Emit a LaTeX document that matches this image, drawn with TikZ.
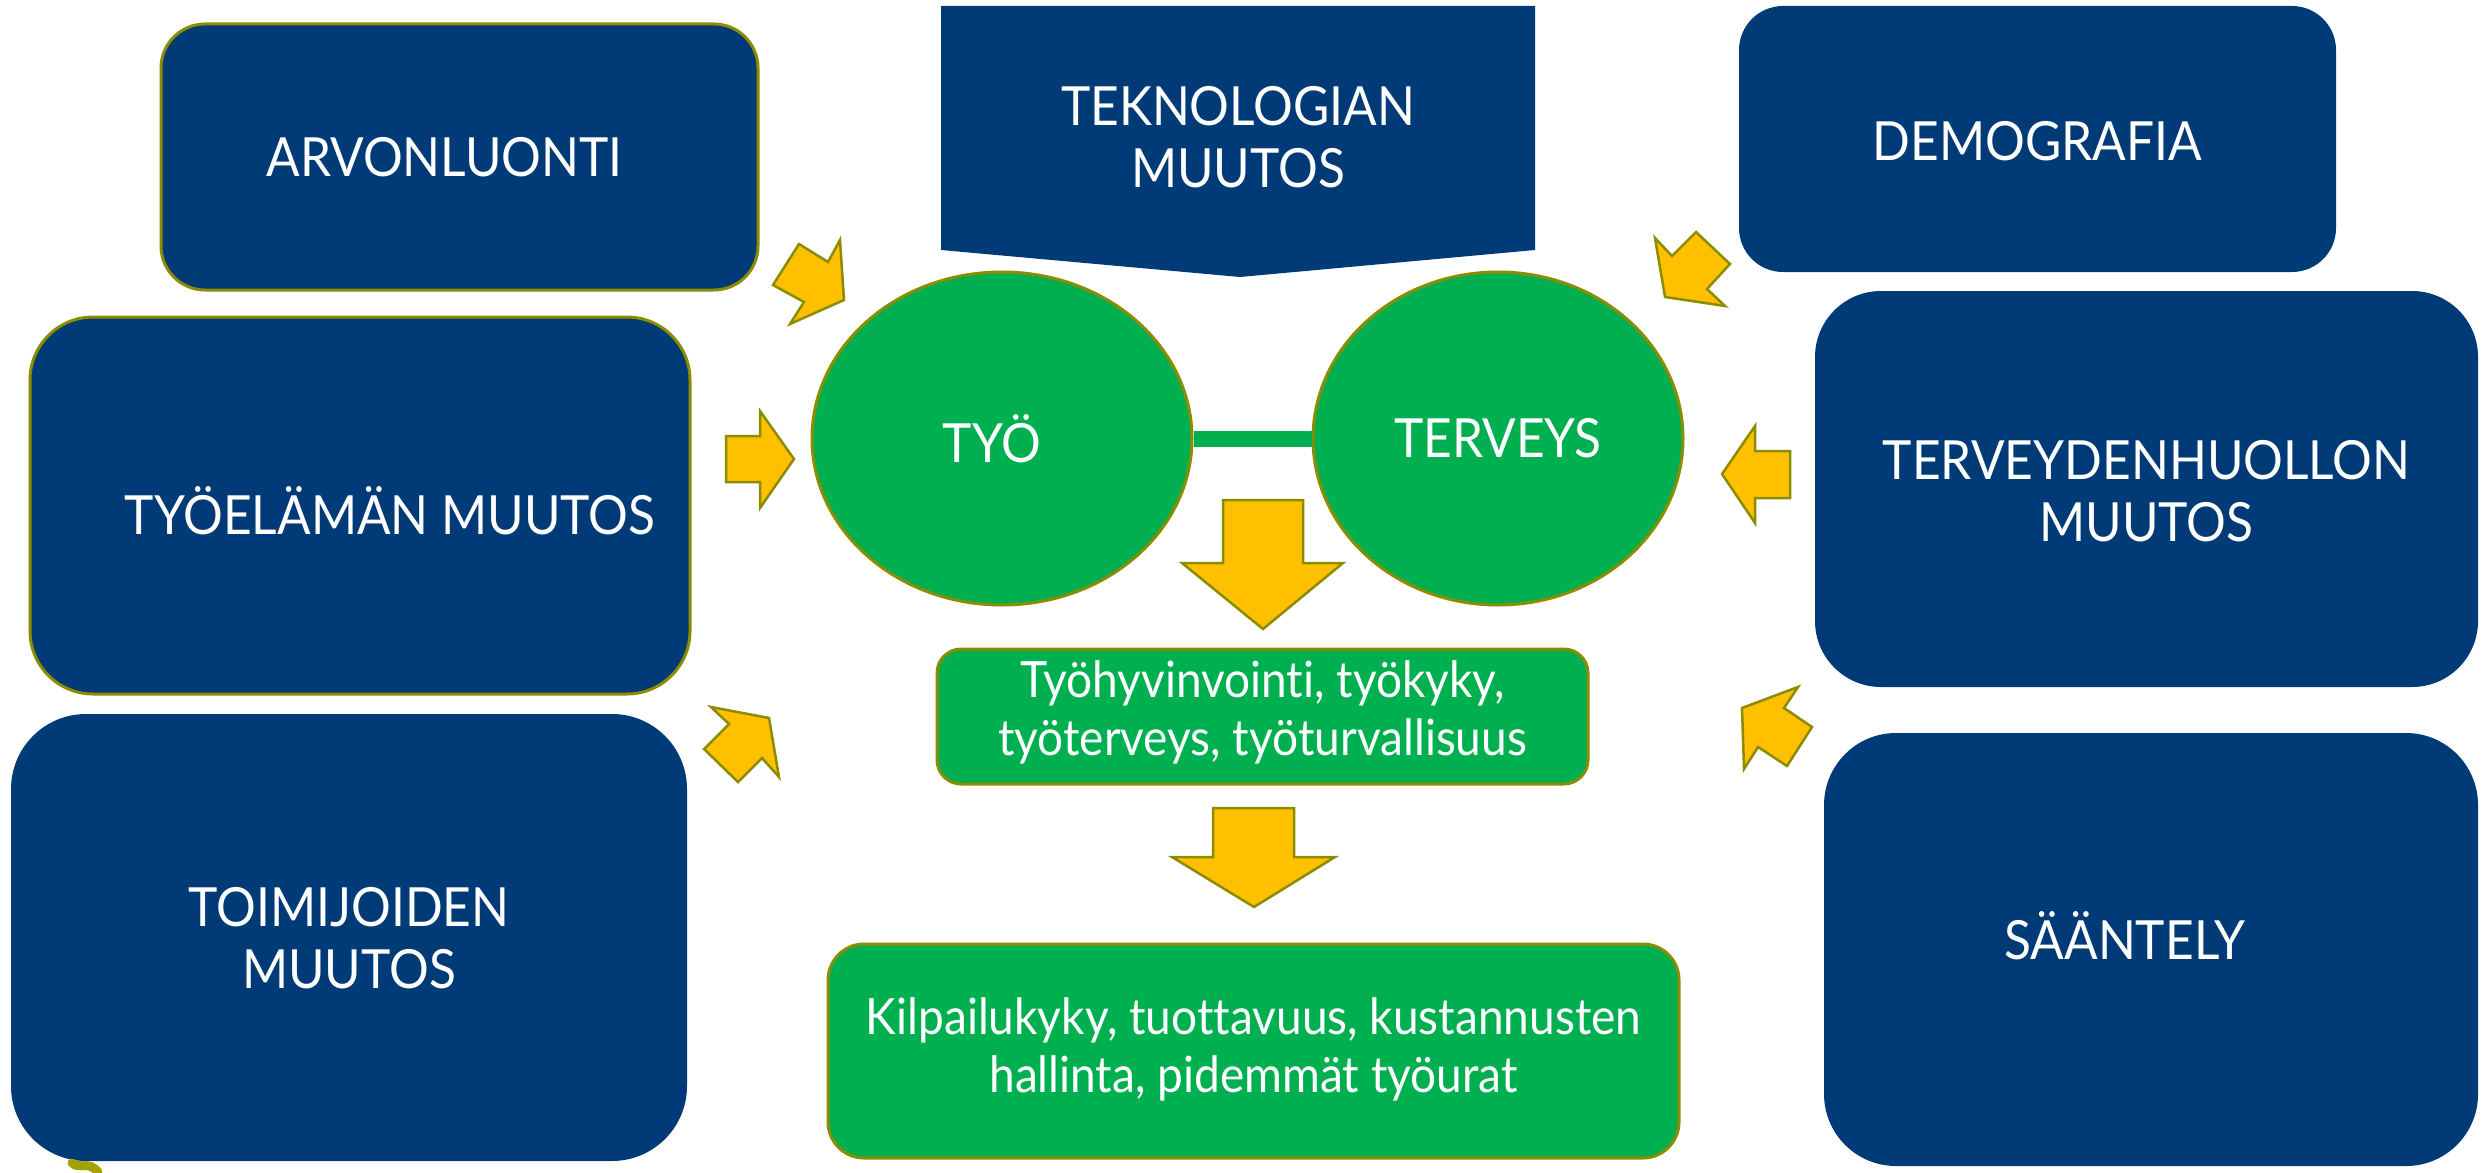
\documentclass[tikz,border=0pt]{standalone}
\usepackage{fontspec}
\setmainfont{Lato}
\newfontfamily\capsfont{Lato}[FakeStretch=0.92, Ligatures=NoCommon]
\newfontfamily\bodyfont{Lato}[FakeStretch=0.92, Ligatures=NoCommon]
\usetikzlibrary{shapes.geometric}

\definecolor{navy}{HTML}{003B77}
\definecolor{leafgreen}{HTML}{00B050}
\definecolor{amber}{HTML}{FFC000}
\definecolor{olivegold}{HTML}{8C8C00}

\tikzset{
  navybox/.style={fill=navy, inner sep=0pt},
  olivetrim/.style={draw=olivegold, line width=3pt},
  greenbox/.style={fill=leafgreen, draw=olivegold, line width=3pt, inner sep=0pt},
  greenoval/.style={ellipse, fill=leafgreen, draw=olivegold, line width=3pt, inner sep=0pt},
  blockarrow/.style={fill=amber, draw=olivegold, line width=2.5pt, line join=miter},
  capslabel/.style={text=white, align=center, inner sep=0pt,
    font={\capsfont\fontsize{54}{62}\selectfont}},
  bodylabel/.style={text=white, align=center, inner sep=0pt,
    font={\bodyfont\fontsize{50}{58}\selectfont}},
}

\begin{document}
\begin{tikzpicture}[x=1pt, y=-1pt]
\useasboundingbox (0,0) rectangle (2483,1172);

% --- outer driver boxes ---
\node[navybox, olivetrim, minimum width=597, minimum height=266, rounded corners=44] (arvo) at (459.5,157) {};
\node[navybox, olivetrim, minimum width=660, minimum height=377, rounded corners=63] (tyoelama) at (360,505.5) {};
\node[navybox, minimum width=676, minimum height=447, rounded corners=75] (toimijat) at (349,937.5) {};
\node[navybox, minimum width=597, minimum height=266, rounded corners=44] (demo) at (2037.5,139) {};
\node[navybox, minimum width=663, minimum height=396, rounded corners=66] (thuolto) at (2146.5,489) {};
\node[navybox, minimum width=654, minimum height=433, rounded corners=72] (saantely) at (2151,949.5) {};

% technology banner (rectangle with a shallow point at the bottom)
\fill[navy] (941,6) -- (1535,6) -- (1535,250) -- (1240,277) -- (941,250) -- cycle;
\coordinate (tekno) at (1238,137);

\node[capslabel] at ([xshift=-15]arvo.center) {ARVONLUONTI};
\node[capslabel] at ([xshift=30,yshift=-5]tyoelama.center) {TYÖELÄMÄN MUUTOS};
\node[capslabel] at ([yshift=-1]toimijat.center) {TOIMIJOIDEN\\MUUTOS};
\node[capslabel] at (tekno) {TEKNOLOGIAN\\MUUTOS};
\node[capslabel] at ([yshift=-2]demo.center) {DEMOGRAFIA};
\node[capslabel] at ([yshift=-2]thuolto.center) {TERVEYDENHUOLLON\\MUUTOS};
\node[capslabel] at ([xshift=-26,yshift=14]saantely.center) {SÄÄNTELY};

% --- work and health ---
\node[greenoval, minimum width=380, minimum height=333] (tyo) at (1002,438.5) {};
\node[greenoval, minimum width=370, minimum height=333] (terveys) at (1498,438.5) {};
\draw[leafgreen, line width=16pt] (tyo) -- (terveys);
\node[capslabel] at ([xshift=-10]tyo.center) {TYÖ};
\node[capslabel] at (terveys.center) {TERVEYS};

% --- outcomes ---
\node[greenbox, minimum width=651, minimum height=135, rounded corners=24] (hyvinvointi) at (1262.5,716.5) {};
\node[bodylabel] at ([yshift=4]hyvinvointi.center) {Työhyvinvointi, työkyky,\\työterveys, työturvallisuus};
\node[greenbox, minimum width=851, minimum height=214, rounded corners=36] (kilpailu) at (1253.5,1051) {};
\node[bodylabel] at ([yshift=2]kilpailu.center) {Kilpailukyky, tuottavuus, kustannusten\\hallinta, pidemmät työurat};

% --- block arrows ---
\draw[blockarrow] (799,244) -- (828,262) -- (840,240) -- (844,300) -- (790,324) -- (804,302) -- (773,285) -- cycle;
\draw[blockarrow] (1655,238) -- (1672,256) -- (1696,232) -- (1730,264) -- (1707,289) -- (1725,306) -- (1665,297) -- cycle;
\draw[blockarrow] (726,436) -- (760,436) -- (760,411) -- (794,459) -- (760,508) -- (760,482) -- (726,482) -- cycle;
\draw[blockarrow] (1722,474) -- (1755,426) -- (1755,451) -- (1790,451) -- (1790,498) -- (1755,498) -- (1755,523) -- cycle;
\draw[blockarrow] (711,707) -- (769,718) -- (779,777) -- (762,758) -- (738,782) -- (704,749) -- (729,724) -- cycle;
\draw[blockarrow] (1742,708) -- (1798,687) -- (1784,708) -- (1812,727) -- (1787,766) -- (1758,747) -- (1744,769) -- cycle;
\draw[blockarrow] (1223,500) -- (1303,500) -- (1303,563) -- (1343,563) -- (1263,629) -- (1182,563) -- (1223,563) -- cycle;
\draw[blockarrow] (1213,808) -- (1294,808) -- (1294,857) -- (1335,857) -- (1254,907) -- (1172,857) -- (1213,857) -- cycle;

% logo fragment at the lower edge
\draw[olivegold!80!yellow, line width=9pt, line cap=round] (72,1163) .. controls (80,1170) and (88,1160) .. (98,1172);
\end{tikzpicture}
\end{document}
